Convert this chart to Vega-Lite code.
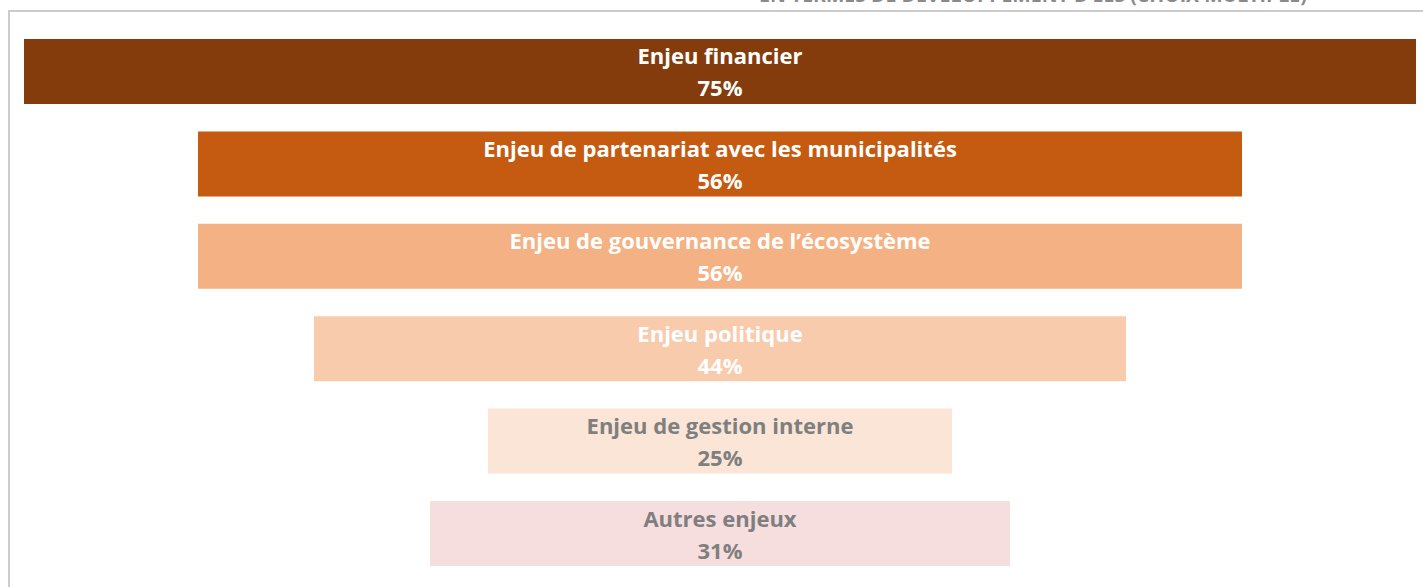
{
  "$schema": "https://vega.github.io/schema/vega-lite/v6.json",
  "autosize": "none",
  "width": 1500,
  "height": 583,
  "padding": {"left": 9, "top": 11, "right": 0, "bottom": 0},
  "background": "white",
  "title": {
    "text": "EN TERMES DE DÉVELOPPEMENT D’ÉES (CHOIX MULTIPLE)",
    "anchor": "start",
    "frame": "group",
    "dx": 750,
    "dy": 10,
    "offset": 0,
    "baseline": "alphabetic",
    "font": "Open Sans",
    "fontSize": 19.5,
    "fontWeight": "bold",
    "color": "#8a8a8a"
  },
  "config": {
    "view": {"stroke": "#cccccc", "strokeWidth": 2},
    "text": {"font": "Open Sans", "fontWeight": "bold", "fontSize": 22}
  },
  "data": {
    "values": [
      {"enjeu": "Enjeu financier", "share": 0.75},
      {"enjeu": "Enjeu de partenariat avec les municipalités", "share": 0.5625},
      {"enjeu": "Enjeu de gouvernance de l’écosystème", "share": 0.5625},
      {"enjeu": "Enjeu politique", "share": 0.4375},
      {"enjeu": "Enjeu de gestion interne", "share": 0.25},
      {"enjeu": "Autres enjeux", "share": 0.3125}
    ]
  },
  "encoding": {
    "y": {
      "field": "enjeu",
      "type": "nominal",
      "sort": null,
      "axis": null,
      "scale": {"paddingInner": 0.2965, "paddingOuter": 0.303}
    }
  },
  "layer": [
    {
      "mark": {"type": "bar"},
      "encoding": {
        "x": {
          "field": "share",
          "type": "quantitative",
          "stack": "center",
          "axis": null,
          "scale": {"domain": [-0.00808, 0.8001], "nice": false, "zero": false}
        },
        "color": {
          "field": "enjeu",
          "type": "nominal",
          "sort": null,
          "legend": null,
          "scale": {
            "domain": ["Enjeu financier", "Enjeu de partenariat avec les municipalités", "Enjeu de gouvernance de l’écosystème", "Enjeu politique", "Enjeu de gestion interne", "Autres enjeux"],
            "range": ["#843C0C", "#C55A11", "#F4B183", "#F8CBAD", "#FBE5D6", "#F6DEDE"]
          }
        }
      }
    },
    {
      "mark": {"type": "text", "dy": -14, "baseline": "middle", "align": "center"},
      "encoding": {
        "x": {"datum": 0.375, "type": "quantitative"},
        "text": {"field": "enjeu", "type": "nominal"},
        "color": {
          "field": "enjeu",
          "type": "nominal",
          "sort": null,
          "legend": null,
          "scale": {
            "domain": ["Enjeu financier", "Enjeu de partenariat avec les municipalités", "Enjeu de gouvernance de l’écosystème", "Enjeu politique", "Enjeu de gestion interne", "Autres enjeux"],
            "range": ["#ffffff", "#ffffff", "#ffffff", "#ffffff", "#7f7f7f", "#7f7f7f"]
          }
        }
      }
    },
    {
      "mark": {"type": "text", "dy": 18, "baseline": "middle", "align": "center"},
      "encoding": {
        "x": {"datum": 0.375, "type": "quantitative"},
        "text": {"field": "share", "type": "quantitative", "format": ".0%"},
        "color": {
          "field": "enjeu",
          "type": "nominal",
          "sort": null,
          "legend": null,
          "scale": {
            "domain": ["Enjeu financier", "Enjeu de partenariat avec les municipalités", "Enjeu de gouvernance de l’écosystème", "Enjeu politique", "Enjeu de gestion interne", "Autres enjeux"],
            "range": ["#ffffff", "#ffffff", "#ffffff", "#ffffff", "#7f7f7f", "#7f7f7f"]
          }
        }
      }
    }
  ],
  "resolve": {"scale": {"color": "independent"}}
}
